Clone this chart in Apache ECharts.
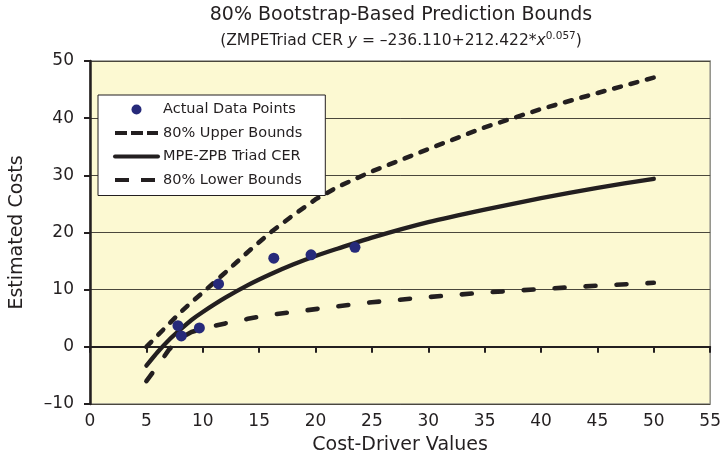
<!DOCTYPE html>
<html>
<head>
<meta charset="utf-8">
<script src="https://cdn.jsdelivr.net/npm/echarts@6/dist/echarts.min.js"></script>
<style>html,body{margin:0;padding:0;background:#fff}#c{width:724px;height:460px}</style>
</head>
<body>
<div id="c"></div>
<script>
var xTicks = [0,5,10,15,20,25,30,35,40,45,50,55];
var yTicks = [-10,0,10,20,30,40,50];
var pointsX = [7.8, 8.1, 9.7, 11.4, 16.3, 19.6, 23.5];
var pointsY = [3.7, 1.9, 3.3, 11.0, 15.5, 16.1, 17.4];
var curveX = [5,6,7,8,9,10,12,14,16,18,20,22,25,30,35,40,45,50];
var cerY   = [-3.3,-0.9,1.2,3.0,4.7,6.1,8.6,10.8,12.7,14.4,15.9,17.2,19.1,21.8,24.0,26.0,27.8,29.4];
var upperY = [0,2,4,6,7.8,9.5,13,16.6,20,23,25.8,28,30.7,34.6,38.4,41.6,44.4,47.1];
var lowerY = [-6.0,-3.3,-0.5,1.5,2.6,3.2,4.1,4.9,5.6,6.1,6.6,7.1,7.8,8.7,9.5,10.1,10.7,11.2];

function pairs(xs, ys){ return xs.map(function(x,i){ return [x, ys[i]]; }); }

var ink = '#231F20';
var font = 'DejaVu Sans, Liberation Sans, Arial, sans-serif';
var chart = echarts.init(document.getElementById('c'), null, {renderer:'canvas'});
chart.setOption({
  animation: false,
  title: [{
    text: '80% Bootstrap-Based Prediction Bounds',
    left: 401, top: 6, textAlign: 'center', padding: 0,
    textStyle: {fontFamily: font, fontSize: 19, fontWeight: 'normal', color: ink}
  },{
    text: '{n|(ZMPETriad CER }{i|y}{n| = \u2013236.110+212.422*}{i|x}{s|0.057}{n|)}',
    left: 401, top: 31, textAlign: 'center', padding: 0,
    textStyle: {fontFamily: font, fontSize: 15.5, fontWeight: 'normal', color: ink,
      rich: {
        n: {fontFamily: font, fontSize: 15.5, color: ink, lineHeight: 20},
        i: {fontFamily: font, fontSize: 15.5, fontStyle: 'italic', color: ink, lineHeight: 20},
        s: {fontFamily: font, fontSize: 10.5, color: ink, lineHeight: 11, verticalAlign: 'top'}
      }}
  }],
  grid: {left: 87, right: 8, top: 61, bottom: 55, show: true,
    backgroundColor: '#FCF9D2', borderColor: '#8f8f88', borderWidth: 1.5},
  legend: {
    orient: 'vertical', left: 98, top: 95,
    padding: [7, 23, 8, 15], itemGap: 8.5, itemWidth: 43, itemHeight: 10,
    backgroundColor: '#ffffff', borderColor: '#231F20', borderWidth: 1, borderRadius: 0,
    textStyle: {fontFamily: font, fontSize: 14.5, color: ink},
    data: [
      {name: 'Actual Data Points'},
      {name: '80% Upper Bounds', itemStyle: {opacity: 0},
        lineStyle: {color: ink, width: 4, type: [12, 4], cap: 'butt'}},
      {name: 'MPE-ZPB Triad CER', itemStyle: {opacity: 0},
        lineStyle: {color: ink, width: 4, type: 'solid', cap: 'round'}},
      {name: '80% Lower Bounds', itemStyle: {opacity: 0},
        lineStyle: {color: ink, width: 4, type: [14, 12], cap: 'butt'}}
    ]
  },
  xAxis: [{
    type: 'value', min: 0, max: 55, interval: 5, position: 'bottom',
    axisLine: {show: false, onZero: false}, axisTick: {show: false}, splitLine: {show: false},
    axisLabel: {margin: 9, fontFamily: font, fontSize: 17, color: ink},
    name: 'Cost-Driver Values', nameLocation: 'middle', nameGap: 32,
    nameTextStyle: {fontFamily: font, fontSize: 19, color: ink}
  },{
    type: 'value', min: 0, max: 55, interval: 5, position: 'bottom',
    axisLine: {show: true, onZero: true, onZeroAxisIndex: 0, lineStyle: {color: ink, width: 2}},
    axisTick: {show: true, length: 6, lineStyle: {color: ink, width: 2}},
    axisLabel: {show: false}, splitLine: {show: false}
  }],
  yAxis: {
    type: 'value', min: -10, max: 50, interval: 10,
    axisLine: {show: true, onZero: false, lineStyle: {color: ink, width: 2.5}},
    axisTick: {show: true, length: 6, lineStyle: {color: ink, width: 2}},
    axisLabel: {margin: 16, fontFamily: font, fontSize: 17, color: ink,
      formatter: function(v){ return v < 0 ? '\u2013' + Math.abs(v) : String(v); }},
    splitLine: {show: true, lineStyle: {color: '#4a473c', width: 1}},
    name: 'Estimated Costs', nameLocation: 'middle', nameGap: 63,
    nameTextStyle: {fontFamily: font, fontSize: 19, color: ink}
  },
  series: [{
    name: 'Actual Data Points', type: 'scatter', xAxisIndex: 0, z: 5,
    data: pairs(pointsX, pointsY), symbolSize: 11,
    itemStyle: {color: '#262A7A', opacity: 1}
  },{
    name: '80% Upper Bounds', type: 'line', xAxisIndex: 0, showSymbol: false, symbol: 'none',
    data: pairs(curveX, upperY),
    lineStyle: {color: ink, width: 4.6, type: [7, 10], cap: 'round'},
    itemStyle: {color: ink}
  },{
    name: 'MPE-ZPB Triad CER', type: 'line', xAxisIndex: 0, showSymbol: false, symbol: 'none',
    data: pairs(curveX, cerY), smooth: 0.2,
    lineStyle: {color: ink, width: 4.3, cap: 'round'},
    itemStyle: {color: ink}
  },{
    name: '80% Lower Bounds', type: 'line', xAxisIndex: 0, showSymbol: false, symbol: 'none',
    data: pairs(curveX, lowerY),
    lineStyle: {color: ink, width: 4.6, type: [10, 21], cap: 'round'},
    itemStyle: {color: ink}
  }]
});
</script>
</body>
</html>
